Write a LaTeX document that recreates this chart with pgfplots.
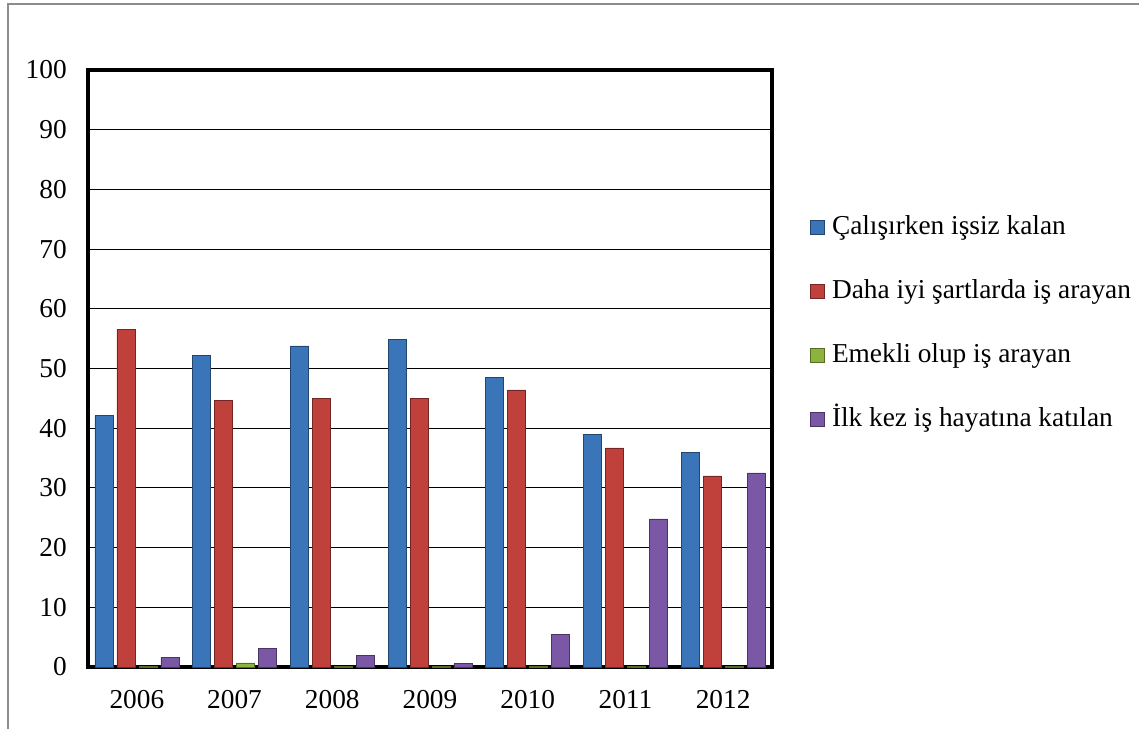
\documentclass[border=0pt]{standalone}
\usepackage{fontspec}
\setmainfont{Liberation Serif}
\usepackage{pgfplots}
\pgfplotsset{compat=1.18}
\definecolor{cblue}{HTML}{3A74B9}
\definecolor{cred}{HTML}{C0403C}
\definecolor{cgreen}{HTML}{8DB33F}
\definecolor{cpurple}{HTML}{7A58A5}
\newcommand{\bigf}{\fontsize{20.5}{24}\selectfont}
\pgfplotsset{
  mybar/.style={ybar, bar width=0.184, bar shift=#1,
    legend image code/.code={\draw[##1] (0pt,-5.25pt) rectangle (10.5pt,5.25pt);}},
}
\begin{document}
\begin{tikzpicture}
\path[use as bounding box] (-66pt,-46.5pt) rectangle (788.25pt,500.25pt);
\draw[color=black!45, line width=1.5pt] (-60pt,-46.5pt) -- (-60pt,497.25pt) -- (788.25pt,497.25pt);
\begin{axis}[
  at={(0,0)}, anchor=south west,
  scale only axis, width=513pt, height=447.75pt,
  xmin=-0.5, xmax=6.5, ymin=0, ymax=100,
  ytick={0,10,...,100},
  xtick={0,1,2,3,4,5,6},
  xticklabels={2006,2007,2008,2009,2010,2011,2012},
  ymajorgrids, grid style={black, line width=0.8pt},
  major tick length=0pt,
  axis line style={line width=3pt, black},
  /pgf/number format/assume math mode=true,
  ticklabel style={font=\bigf},
  yticklabel style={anchor=east, inner sep=0pt, xshift=-15.75pt},
  xticklabel style={anchor=north, inner sep=0pt, yshift=-17.25pt},
  legend style={at={(1,0.575)}, anchor=west, xshift=25.5pt, draw=none, fill=none,
    font=\bigf, row sep=26pt,
    nodes={inner sep=2pt, text height=14pt, text depth=4pt}},
  legend cell align=left,
]
\addplot[mybar=-0.3375, fill=cblue, draw=cblue!60!black] coordinates
  {(0,42.1) (1,52.2) (2,53.8) (3,54.9) (4,48.5) (5,39.0) (6,36.0)};
\addplot[mybar=-0.1125, fill=cred, draw=cred!60!black] coordinates
  {(0,56.5) (1,44.7) (2,45.0) (3,45.0) (4,46.4) (5,36.7) (6,32.0)};
\addplot[mybar=0.1125, fill=cgreen, draw=cgreen!60!black] coordinates
  {(0,0.05) (1,0.7) (2,0.1) (3,0.05) (4,0.1) (5,0.1) (6,0.1)};
\addplot[mybar=0.3375, fill=cpurple, draw=cpurple!60!black] coordinates
  {(0,1.6) (1,3.1) (2,1.9) (3,0.6) (4,5.4) (5,24.8) (6,32.5)};
\legend{\,Çalışırken işsiz kalan, \,Daha iyi şartlarda iş arayan, \,Emekli olup iş arayan, \,İlk kez iş hayatına katılan}
\end{axis}
\end{tikzpicture}
\end{document}
